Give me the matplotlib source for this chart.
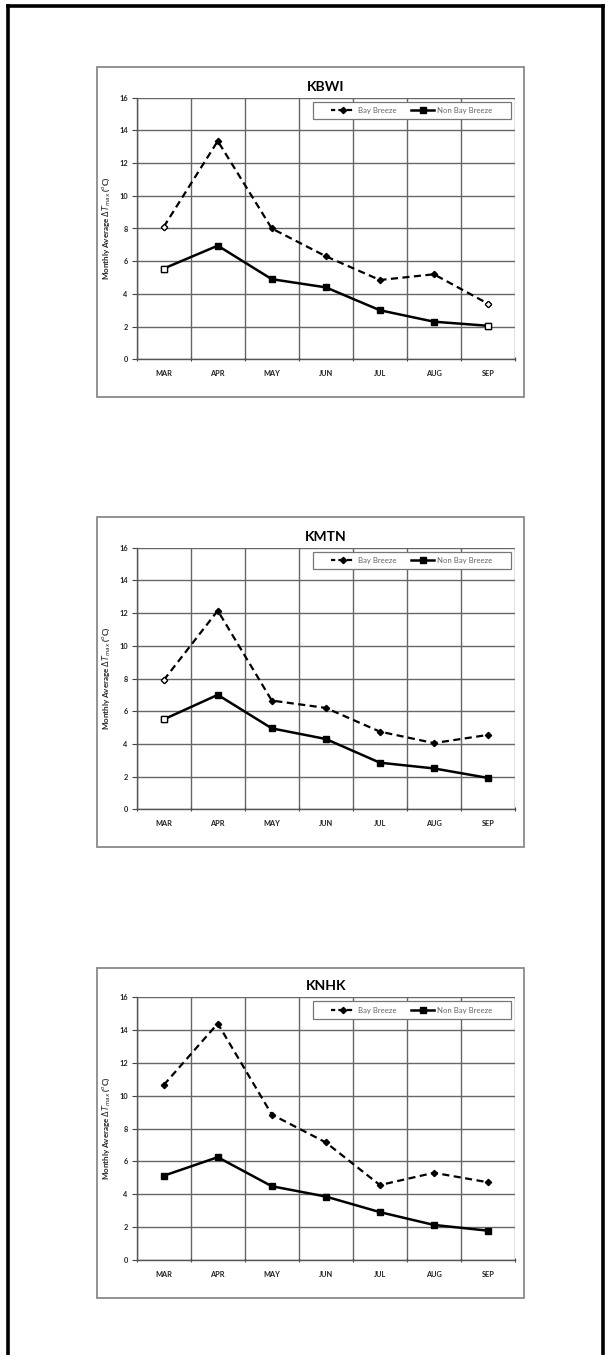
import matplotlib
matplotlib.use("Agg")
import matplotlib.pyplot as plt
from matplotlib.patches import Rectangle
from matplotlib.lines import Line2D

plt.rcParams['font.family'] = ['Lato', 'DejaVu Sans']

months = ["MAR", "APR", "MAY", "JUN", "JUL", "AUG", "SEP"]
stations = ["KBWI", "KMTN", "KNHK"]

kbwi_bay = [8.1, 13.35, 8.0, 6.3, 4.85, 5.2, 3.4]
kbwi_non = [5.55, 6.95, 4.9, 4.4, 3.0, 2.3, 2.05]
kmtn_bay = [7.9, 12.15, 6.65, 6.2, 4.75, 4.05, 4.55]
kmtn_non = [5.5, 7.0, 4.95, 4.3, 2.85, 2.5, 1.92]
knhk_bay = [10.65, 14.4, 8.85, 7.15, 4.55, 5.3, 4.72]
knhk_non = [5.12, 6.25, 4.48, 3.85, 2.9, 2.12, 1.77]

bay_series = [kbwi_bay, kmtn_bay, knhk_bay]
non_series = [kbwi_non, kmtn_non, knhk_non]
open_points = [[0, 6], [0], []]
series_names = ["Bay Breeze", "Non Bay Breeze"]

yticks = [0, 2, 4, 6, 8, 10, 12, 14, 16]

W, H = 611, 1355
fig = plt.figure(figsize=(W / 100, H / 100), dpi=100)

# outer frame (left, top, right)
lw_frame = 2.6
fig.add_artist(Line2D([8 / W, 8 / W], [0, 1 - 6 / H], transform=fig.transFigure, color='black', lw=lw_frame))
fig.add_artist(Line2D([8 / W, 603 / W], [1 - 6 / H, 1 - 6 / H], transform=fig.transFigure, color='black', lw=lw_frame))
fig.add_artist(Line2D([603 / W, 603 / W], [0, 1 - 6 / H], transform=fig.transFigure, color='black', lw=lw_frame))

ax_tops = [97.7, 547.7, 997.3]
ax_bots = [359.3, 809.3, 1259.7]
box_tops = [67, 517, 968]
box_bots = [397, 847, 1298]
ax_left, ax_right = 136.7, 515.0
box_left, box_right = 97, 524

for i in range(3):
    # panel box
    fig.add_artist(Rectangle((box_left / W, 1 - box_bots[i] / H), (box_right - box_left) / W,
                             (box_bots[i] - box_tops[i]) / H, transform=fig.transFigure,
                             fill=False, edgecolor='#8a8a8a', lw=1.3))
    ax = fig.add_axes([ax_left / W, 1 - ax_bots[i] / H, (ax_right - ax_left) / W,
                       (ax_bots[i] - ax_tops[i]) / H])
    x = list(range(len(months)))
    ax.plot(x, bay_series[i], color='black', lw=1.6, ls=(0, (3.2, 2)), marker='D', ms=3.2,
            mfc='black', mec='black', zorder=5)
    ax.plot(x, non_series[i], color='black', lw=1.8, ls='-', marker='s', ms=5,
            mfc='black', mec='black', zorder=5)
    if open_points[i]:
        idx = open_points[i]
        ax.plot([x[k] for k in idx], [bay_series[i][k] for k in idx], ls='none', marker='D',
                ms=3.2, mfc='white', mec='black', mew=0.8, zorder=6)
        ax.plot([x[k] for k in idx], [non_series[i][k] for k in idx], ls='none', marker='s',
                ms=5, mfc='white', mec='black', mew=0.9, zorder=6)
    ax.set_xlim(-0.5, 6.5)
    ax.set_ylim(0, 16)
    ax.set_yticks(yticks)
    ax.set_yticklabels([str(v) for v in yticks], fontsize=5.3, fontweight='bold', color='#222222')
    ax.set_xticks([k - 0.5 for k in range(len(months) + 1)])
    ax.set_xticklabels([])
    ax.set_xticks(x, minor=True)
    ax.set_xticklabels(months, minor=True, fontsize=5.3, fontweight='bold', color='#222222')
    ax.tick_params(axis='x', which='minor', length=0, pad=8)
    ax.tick_params(axis='x', which='major', length=3, width=0.8, direction='inout', color='#444444')
    ax.tick_params(axis='y', which='major', length=3.5, width=0.8, direction='out', pad=3, color='#444444')
    ax.grid(True, which='major', color='#666666', lw=1.0)
    ax.set_axisbelow(True)
    for s in ['top', 'right']:
        ax.spines[s].set_visible(False)
    for s in ['left', 'bottom']:
        ax.spines[s].set_color('#555555')
        ax.spines[s].set_linewidth(1.0)
    ax.set_ylabel(r'Monthly Average $\Delta T_{max}$ ($^{o}$C)', fontsize=5.8, fontweight='bold',
                  color='#222222', labelpad=5)
    ax.set_title(stations[i], fontsize=10, fontweight='bold', pad=5)

    # legend box drawn manually (Excel-like proportions)
    lx0, lx1 = 0.466, 0.989
    ly0, ly1 = 0.919, 0.984
    ax.add_patch(Rectangle((lx0, ly0), lx1 - lx0, ly1 - ly0, transform=ax.transAxes,
                           facecolor='white', edgecolor='#777777', lw=0.9, zorder=8))
    handles = [Line2D([], [], color='black', lw=1.6, ls=(0.5, (2.4, 1.4)), marker='D', ms=3.2),
               Line2D([], [], color='black', lw=1.8, ls='-', marker='s', ms=5)]
    leg = ax.legend(handles, series_names, loc='center',
                    bbox_to_anchor=((lx0 + lx1) / 2, (ly0 + ly1) / 2),
                    ncol=2, fontsize=5.6, frameon=False, handlelength=3.0, columnspacing=1.9,
                    borderpad=0.0, handletextpad=0.4)
    leg.set_zorder(9)
    for t in leg.get_texts():
        t.set_color('#666666')

fig.savefig('out.png', dpi=100)
